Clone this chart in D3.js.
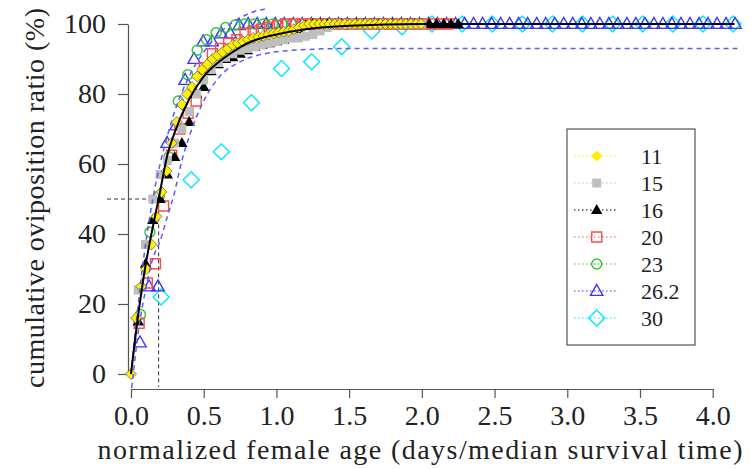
<!DOCTYPE html>
<html>
<head>
<meta charset="utf-8">
<script src="https://cdn.jsdelivr.net/npm/d3@7"></script>
<style>
  body { margin: 0; background: #fff; }
</style>
</head>
<body>
<svg width="754" height="469"></svg>
<script>
// temperature groups (legend labels) and the age step of each group (1 day / median survival)
const temps = ["11", "15", "16", "20", "23", "26.2", "30"];
const steps = [0.035, 0.05, 0.05, 0.056, 0.065, 0.062, 0.207];

// cumulative oviposition ratio (%) per day (null = no point)
const ratio11 = [0, 16, 25, 30, 37, 45, 52, 58, 66, 72, 77, 80, 82, 85, 87, 88.5, 90, 91, 92, 93,
  94, 94.5, 95, 95.5, 96, 96.3, 96.6, 97, 97.3, 97.6, 97.8, 98, 98.5, 99, 99.5,
  100, 100, 100, 100, 100, 100, 100, 100, 100, 100, 100, 100, 100, 100, 100, 100, 100, 100, 100, 100, 100, 100, 100];
const ratio15 = [null, 24, 37, 50, 57, 61, 66, 70, 75, 80, 84, 87, 89, 90.5, 91.5, 92.5, 93, 93.5, 94, 94.5,
  95, 95.5, 96, 96, 96.5, 97, 98, 99,
  100, 100, 100, 100, 100, 100, 100, 100, 100, 100, 100, 100, 100];
const ratio16 = [null, 15, 31.5, 44, 50, 57, 62, 66, 72, 80, 82, 86.5, 88.5, 90, 90.5, 91.5, 92.5, 93.5, 94, 94.5,
  95, 95.5, 96.5, 98.5, 99.5,
  100, 100, 100, 100, 100, 100, 100, 100, 100, 100, 100, 100, 100, 100, 100, 100, 100, 100, 100, 100, 100];
const ratio20 = [null, 14.5, 26, 31.5, 48, 62.5, 70, 74.5, 78, 87.5, 91.5, 93, 94.5, 95.5, 97.3, 98, 98.5, 99, 99.5,
  100, 100, 100, 100, 100, 100, 100, 100, 100, 100, 100, 100, 100, 100, 100, 100, 100, 100, 100, 100, 100];
const ratio23 = [null, 17, 40.5, 51, 62, 78, 85.5, 92.5, 95.5, 97.5, 99, 99.7,
  100, 100, 100, 100, 100, 100, 100, 100, 100, 100, 100, 100, 100, 100, 100, 100, 100, 100, 100, 100];
const ratio262 = [null, 9, 25, 25, 66, 71, 84, 90, 95, 95, 97.3, 97.3, 99.7,
  100, 100, 100, 100, 100, 100, 100, 100, 100, 100, 100, 100, 100, 100, 100, 100, 100, 100, 100, 100, 100, 100,
  100, 100, 100, 100, 100, 100, 100, 100, 100, 100, 100, 100, 100, 100, 100, 100, 100, 100, 100, 100, 100, 100,
  100, 100, 100, 100, 100, 100, 100, 100, 100, 100, 100];
const ratio30 = [null, 22, 55.5, 63.5, 77.5, 87.3, 89.2, 93.5, 98, 99.2,
  100, 100, 100, 100, 100, 100, 100, 100, 100, 100, 100];

// fitted curve and the two dashed envelope curves, [age, %]
const fitAll = [[0, 0], [0.05, 17], [0.1, 31], [0.15, 42], [0.19, 50], [0.25, 62.5], [0.3, 69], [0.4, 78.5],
  [0.5, 85], [0.6, 89], [0.7, 92], [0.8, 94.5], [0.9, 96], [1.0, 97], [1.2, 98.5], [1.5, 99.5], [2.0, 100], [4.15, 100]];
const bandUpper = [[0, 0], [0.05, 20], [0.1, 37], [0.15, 50], [0.2, 60], [0.25, 68], [0.3, 75], [0.4, 85],
  [0.5, 92], [0.6, 97], [0.7, 100.5], [0.8, 102.8], [0.92, 104.3]];
const bandLower = [[0.005, -4], [0.05, 12], [0.1, 24], [0.15, 33], [0.2, 38], [0.25, 45], [0.3, 52], [0.35, 61],
  [0.41, 69], [0.5, 78], [0.61, 85], [0.75, 89.2], [0.93, 91.6], [1.16, 92.6], [1.5, 93], [2.0, 93], [4.17, 93]];
const medianAge = 0.19;

const xTicks = [0, 0.5, 1, 1.5, 2, 2.5, 3, 3.5, 4];
const yTicks = [0, 20, 40, 60, 80, 100];

const series = [ratio11, ratio15, ratio16, ratio20, ratio23, ratio262, ratio30];
const colors = ["#ffee00", "#bebebe", "#000000", "#ff4a4a", "#33c433", "#3535ff", "#00e8ff"];
const shapes = ["diamondF", "squareF", "triangleF", "square", "circle", "triangle", "diamond"];
const sizes = [5.5, 4.5, 6, 5, 5, 6.5, 8];
const serif = "Times New Roman, Liberation Serif, DejaVu Serif, serif";

const svg = d3.select("svg");
const x = d3.scaleLinear().domain([0, 4]).range([131, 712.7]);
const y = d3.scaleLinear().domain([0, 100]).range([374, 24]);

function shapePath(kind, r) {
  if (kind.startsWith("diamond")) return `M0,${-r}L${r},0L0,${r}L${-r},0Z`;
  if (kind.startsWith("square")) return `M${-r},${-r}H${r}V${r}H${-r}Z`;
  if (kind.startsWith("triangle")) return `M0,${-r}L${r * 0.95},${r * 0.68}L${-r * 0.95},${r * 0.68}Z`;
  return `M${r},0A${r},${r} 0 1,1 ${-r},0A${r},${r} 0 1,1 ${r},0Z`;
}

function marker(g, k, cx, cy, inLegend) {
  const filled = shapes[k].endsWith("F");
  g.append("path")
    .attr("d", shapePath(shapes[k], sizes[k]))
    .attr("transform", `translate(${cx},${cy})`)
    .attr("fill", filled ? colors[k] : "none")
    .attr("stroke", filled ? (k === 0 && !inLegend ? "#555" : "none") : colors[k])
    .attr("stroke-width", filled ? 0.7 : 1.4);
}

// axes
const xAxis = svg.append("g")
  .attr("transform", "translate(0,389)")
  .call(d3.axisBottom(x).tickValues(xTicks).tickFormat(d3.format(".1f")).tickSize(9).tickSizeOuter(0).tickPadding(7));
const yAxis = svg.append("g")
  .attr("transform", "translate(128,0)")
  .call(d3.axisLeft(y).tickValues(yTicks).tickSize(10).tickSizeOuter(0).tickPadding(12));
[xAxis, yAxis].forEach(g => {
  g.attr("font-family", serif).attr("font-size", 28);
  g.selectAll("text").attr("fill", "#222");
  g.selectAll("line, path").attr("stroke", "#555").attr("stroke-width", 1.2);
});

svg.append("text")
  .attr("transform", "translate(34,198) rotate(-90)")
  .attr("text-anchor", "middle")
  .attr("dy", "0.35em")
  .attr("font-family", serif)
  .attr("font-size", 28)
  .attr("textLength", 380)
  .attr("lengthAdjust", "spacing")
  .attr("fill", "#222")
  .text("cumulative oviposition ratio (%)");

svg.append("text")
  .attr("x", 420)
  .attr("y", 459)
  .attr("text-anchor", "middle")
  .attr("font-family", serif)
  .attr("font-size", 28)
  .attr("textLength", 645)
  .attr("lengthAdjust", "spacing")
  .attr("fill", "#222")
  .text("normalized female age (days/median survival time)");

// median guide lines
svg.append("path")
  .attr("d", `M107,${y(50)}H${x(medianAge)}V387`)
  .attr("fill", "none")
  .attr("stroke", "#333")
  .attr("stroke-width", 1)
  .attr("stroke-dasharray", "4,3");

// series: points only
const order = [6, 5, 4, 3, 2, 1, 0];
order.forEach(k => {
  const pts = series[k].map((v, i) => [i * steps[k], v]).filter(d => d[1] != null);
  const g = svg.append("g");
  pts.forEach(d => marker(g, k, x(d[0]), y(d[1]), false));
});

// fitted curves
const curve = d3.line().x(d => x(d[0])).y(d => y(d[1])).curve(d3.curveMonotoneX);
[bandUpper, bandLower].forEach(b => {
  svg.append("path")
    .attr("d", curve(b))
    .attr("fill", "none")
    .attr("stroke", "#5a5aff")
    .attr("stroke-width", 1.5)
    .attr("stroke-dasharray", "5,4");
});
svg.append("path")
  .attr("d", curve(fitAll))
  .attr("fill", "none")
  .attr("stroke", "#000")
  .attr("stroke-width", 2);

// legend
const lg = svg.append("g");
lg.append("rect")
  .attr("x", 567).attr("y", 129).attr("width", 128).attr("height", 216)
  .attr("fill", "#fff").attr("stroke", "#555").attr("stroke-width", 1.2);
temps.forEach((t, k) => {
  const ly = 156 + k * 27;
  lg.append("line")
    .attr("x1", 574).attr("x2", 618).attr("y1", ly).attr("y2", ly)
    .attr("stroke", colors[k]).attr("stroke-width", 1.2).attr("stroke-dasharray", "1.5,2.5");
  marker(lg, k, 596.7, ly, true);
  lg.append("text")
    .attr("x", 641).attr("y", ly).attr("dy", "0.35em")
    .attr("font-family", serif)
    .attr("font-size", 22).attr("fill", "#222")
    .text(t);
});
</script>
</body>
</html>
